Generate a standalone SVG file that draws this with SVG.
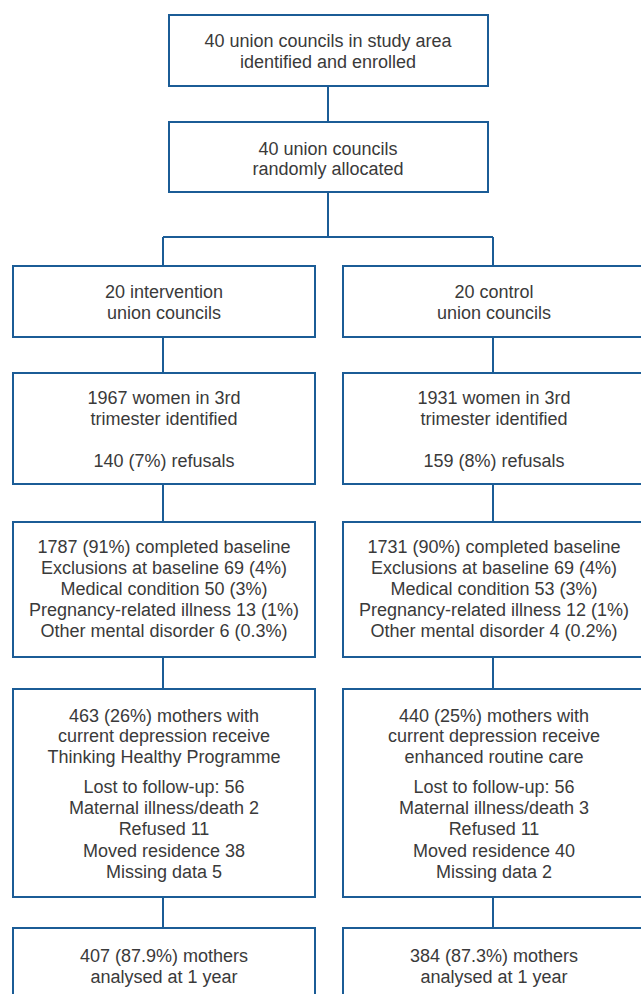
<svg xmlns="http://www.w3.org/2000/svg" width="641" height="994" viewBox="0 0 641 994">
<style>
.box{fill:#fff;stroke:#1b5c96;stroke-width:2}
.ln{fill:none;stroke:#1b5c96;stroke-width:2}
text{font-family:"Liberation Sans",Arial,sans-serif;font-size:18px;fill:#3a3a3a;text-anchor:middle}
</style>
<rect width="641" height="994" fill="#fff"/>
<g id="connectors">
<path class="ln" d="M328,86V122M328,192V237M163,237H493M163,237V266M493,237V266"/>
<path class="ln" d="M163,337V373M493,337V373M163,484V522M493,484V522M163,657V689M493,657V689M163,897V928M493,897V928"/>
</g>
<g id="enrolled"><rect class="box" x="169" y="15" width="319" height="71"/>
<text x="328" y="47">40 union councils in study area</text><text x="328" y="68">identified and enrolled</text></g>
<g id="allocated"><rect class="box" x="169" y="122" width="319" height="70"/>
<text x="328" y="155">40 union councils</text><text x="328" y="175">randomly allocated</text></g>
<g id="int-councils"><rect class="box" x="13" y="266" width="302" height="71"/>
<text x="164" y="298">20 intervention</text><text x="164" y="319">union councils</text></g>
<g id="ctl-councils"><rect class="box" x="343" y="266" width="302" height="71"/>
<text x="494" y="298">20 control</text><text x="494" y="319">union councils</text></g>
<g id="int-women"><rect class="box" x="13" y="373" width="302" height="111"/>
<text x="164" y="404">1967 women in 3rd</text><text x="164" y="425">trimester identified</text><text x="164" y="467">140 (7%) refusals</text></g>
<g id="ctl-women"><rect class="box" x="343" y="373" width="302" height="111"/>
<text x="494" y="404">1931 women in 3rd</text><text x="494" y="425">trimester identified</text><text x="494" y="467">159 (8%) refusals</text></g>
<g id="int-baseline"><rect class="box" x="13" y="522" width="302" height="135"/>
<text x="164" y="553">1787 (91%) completed baseline</text><text x="164" y="574">Exclusions at baseline 69 (4%)</text><text x="164" y="595">Medical condition 50 (3%)</text><text x="164" y="616">Pregnancy-related illness 13 (1%)</text><text x="164" y="637">Other mental disorder 6 (0.3%)</text></g>
<g id="ctl-baseline"><rect class="box" x="343" y="522" width="302" height="135"/>
<text x="494" y="553">1731 (90%) completed baseline</text><text x="494" y="574">Exclusions at baseline 69 (4%)</text><text x="494" y="595">Medical condition 53 (3%)</text><text x="494" y="616">Pregnancy-related illness 12 (1%)</text><text x="494" y="637">Other mental disorder 4 (0.2%)</text></g>
<g id="int-depressed"><rect class="box" x="13" y="689" width="302" height="208"/>
<text x="164" y="722">463 (26%) mothers with</text><text x="164" y="742">current depression receive</text><text x="164" y="763">Thinking Healthy Programme</text>
<text x="164" y="793">Lost to follow-up: 56</text><text x="164" y="814">Maternal illness/death 2</text><text x="164" y="835">Refused 11</text><text x="164" y="857">Moved residence 38</text><text x="164" y="878">Missing data 5</text></g>
<g id="ctl-depressed"><rect class="box" x="343" y="689" width="302" height="208"/>
<text x="494" y="722">440 (25%) mothers with</text><text x="494" y="742">current depression receive</text><text x="494" y="763">enhanced routine care</text>
<text x="494" y="793">Lost to follow-up: 56</text><text x="494" y="814">Maternal illness/death 3</text><text x="494" y="835">Refused 11</text><text x="494" y="857">Moved residence 40</text><text x="494" y="878">Missing data 2</text></g>
<g id="int-analysed"><rect class="box" x="13" y="928" width="302" height="100"/>
<text x="164" y="962">407 (87.9%) mothers</text><text x="164" y="983">analysed at 1 year</text></g>
<g id="ctl-analysed"><rect class="box" x="343" y="928" width="302" height="100"/>
<text x="494" y="962">384 (87.3%) mothers</text><text x="494" y="983">analysed at 1 year</text></g>
</svg>
